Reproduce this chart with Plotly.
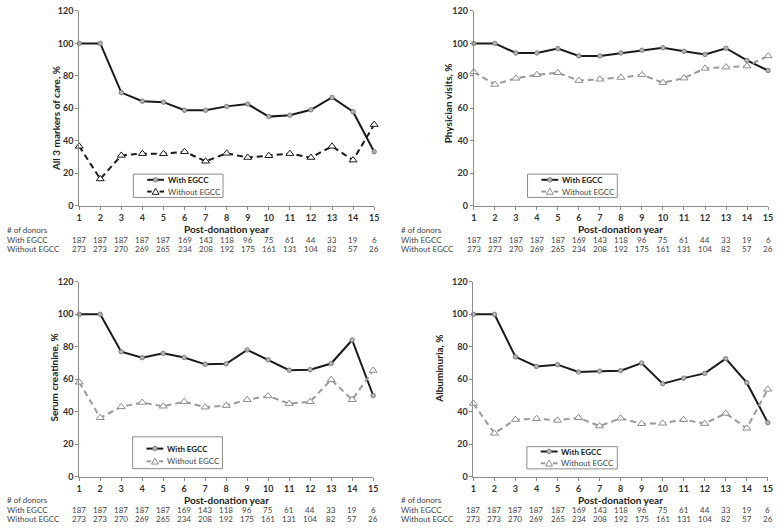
import plotly.graph_objects as go

years = list(range(1, 16))
n_with = [187, 187, 187, 187, 187, 169, 143, 118, 96, 75, 61, 44, 33, 19, 6]
n_without = [273, 273, 270, 269, 265, 234, 208, 192, 175, 161, 131, 104, 82, 57, 26]

all3_with = [100, 100, 69.7, 64.4, 63.8, 58.8, 58.8, 61.2, 62.6, 54.9, 55.8, 59.1, 66.7, 57.9, 33.3]
all3_without = [36.6, 16.5, 31.0, 32.1, 32.0, 33.3, 27.4, 32.3, 29.7, 30.8, 32.1, 29.7, 36.6, 28.1, 50.0]

phys_with = [100, 100, 94.1, 94.1, 96.8, 92.3, 92.3, 94.1, 95.8, 97.3, 95.1, 93.2, 97.0, 89.5, 83.3]
phys_without = [82.4, 74.7, 78.5, 80.7, 81.9, 77.1, 77.9, 79.0, 80.6, 75.8, 78.6, 84.6, 85.4, 86.0, 92.3]

scr_with = [100, 100, 77.0, 73.3, 76.0, 73.4, 69.2, 69.5, 78.1, 72.0, 65.6, 65.9, 69.7, 84.2, 50.0]
scr_without = [58.2, 36.3, 43.0, 45.7, 43.4, 46.2, 42.8, 43.8, 47.4, 49.7, 45.0, 46.2, 59.8, 47.4, 65.4]

alb_with = [100, 100, 73.8, 67.9, 69.0, 64.5, 65.0, 65.3, 70.0, 57.3, 60.7, 63.6, 72.7, 57.9, 33.3]
alb_without = [45.1, 26.7, 35.2, 35.7, 34.7, 36.3, 31.2, 36.0, 32.6, 32.9, 35.1, 32.7, 39.0, 29.8, 53.8]

y_titles = ["All 3 markers of care, %", "Physician visits, %", "Serum creatinine, %", "Albuminuria, %"]
x_title = "Post-donation year"
row_labels = ["# of donors", "With EGCC", "Without EGCC"]
series_names = ["With EGCC", "Without EGCC"]

FONT = "Lato, Calibri, Arial, sans-serif"
W, H = 779, 529

def px_x(p):
    return p / W

def px_y(p):
    return 1 - p / H

# panel geometry in pixels
panels = [
    dict(l=77, r=375, t=5, b=204, with_=all3_with, without=all3_without, dark=True,
         ytx=53, yty=115, box=(131.7, 222.3, 171.7, 195.5), lrows=(177.5, 189.5),
         rowx=2, xt_y=227.5, rows=(229, 239, 248)),
    dict(l=475.7, r=773, t=5, b=204, with_=phys_with, without=phys_without, dark=False,
         ytx=450, yty=99, box=(530, 620.7, 171.7, 195.5), lrows=(177.5, 189.5),
         rowx=400, xt_y=227.5, rows=(229, 239, 248)),
    dict(l=77, r=374, t=281.7, b=480.7, with_=scr_with, without=scr_without, dark=False,
         ytx=52, yty=379, box=(131, 221.7, 440, 472.5), lrows=(452, 465),
         rowx=2, xt_y=504.5, rows=(505, 515, 524)),
    dict(l=475.3, r=772.7, t=281.7, b=480.7, with_=alb_with, without=alb_without, dark=False,
         ytx=441, yty=370, box=(529.3, 620.7, 450, 472.7), lrows=(455, 467),
         rowx=400, xt_y=504.5, rows=(505, 515, 524)),
]

fig = go.Figure()
annotations = []
shapes = []
layout = {}

CIRC_FILL, CIRC_LINE = "#b3b3b3", "#6e6e6e"

for i, p in enumerate(panels):
    k = "" if i == 0 else str(i + 1)
    xa, ya = "x" + k, "y" + k
    dash_color = "#1a1a1a" if p["dark"] else "#9a9a9a"
    tri_line = "#1a1a1a" if p["dark"] else "#8c8c8c"
    fig.add_trace(go.Scatter(
        x=years, y=p["with_"], xaxis=xa, yaxis=ya, showlegend=False,
        name=series_names[0], mode="lines+markers", cliponaxis=False,
        line=dict(color="#1a1a1a", width=2),
        marker=dict(symbol="circle", size=4.5, color=CIRC_FILL,
                    line=dict(color=CIRC_LINE, width=0.8))))
    fig.add_trace(go.Scatter(
        x=years, y=p["without"], xaxis=xa, yaxis=ya, showlegend=False,
        name=series_names[1], mode="lines+markers", cliponaxis=False,
        line=dict(color=dash_color, width=2, dash="6px,4px"),
        marker=dict(symbol="triangle-up", size=7, color="white",
                    line=dict(color=tri_line, width=1))))

    layout["xaxis" + k] = dict(
        domain=[px_x(p["l"]), px_x(p["r"])], anchor=ya, range=[1, 15],
        tickmode="array", tickvals=years, ticktext=[f"<b>{v}</b>" for v in years],
        showgrid=False, zeroline=False, showline=True, linecolor="#8c8c8c", linewidth=1,
        ticks="outside", ticklen=3, tickcolor="#8c8c8c",
        tickfont=dict(family=FONT, size=9, color="#333333"), fixedrange=True)
    layout["yaxis" + k] = dict(
        domain=[px_y(p["b"]), px_y(p["t"])], anchor=xa, range=[0, 120],
        tickmode="array", tickvals=list(range(0, 121, 20)),
        ticktext=[f"<b>{v}</b>" for v in range(0, 121, 20)],
        showgrid=False, zeroline=False, showline=True, linecolor="#8c8c8c", linewidth=1,
        ticks="outside", ticklen=3, tickcolor="#8c8c8c",
        tickfont=dict(family=FONT, size=9, color="#333333"), fixedrange=True)

    # manual legend box
    bl, br, bt, bb = p["box"]
    shapes.append(dict(type="rect", xref="paper", yref="paper",
                       x0=px_x(bl), x1=px_x(br), y0=px_y(bb), y1=px_y(bt),
                       fillcolor="white", line=dict(color="#8c8c8c", width=1), layer="above"))
    sx0, sx1 = bl + 14, bl + 31
    sc = (sx0 + sx1) / 2
    r1, r2 = p["lrows"]
    shapes.append(dict(type="line", xref="paper", yref="paper",
                       x0=px_x(sx0), x1=px_x(sx1), y0=px_y(r1), y1=px_y(r1),
                       line=dict(color="#1a1a1a", width=2), layer="above"))
    shapes.append(dict(type="circle", xref="paper", yref="paper",
                       x0=px_x(sc - 2.3), x1=px_x(sc + 2.3), y0=px_y(r1 + 2.3), y1=px_y(r1 - 2.3),
                       fillcolor=CIRC_FILL, line=dict(color=CIRC_LINE, width=0.8), layer="above"))
    shapes.append(dict(type="line", xref="paper", yref="paper",
                       x0=px_x(sx0), x1=px_x(sc - 4), y0=px_y(r2), y1=px_y(r2),
                       line=dict(color=dash_color, width=2), layer="above"))
    shapes.append(dict(type="line", xref="paper", yref="paper",
                       x0=px_x(sc + 4), x1=px_x(sx1), y0=px_y(r2), y1=px_y(r2),
                       line=dict(color=dash_color, width=2), layer="above"))
    tri = (f"M {px_x(sc - 3.5)} {px_y(r2 + 2.8)} L {px_x(sc + 3.5)} {px_y(r2 + 2.8)} "
           f"L {px_x(sc)} {px_y(r2 - 3.4)} Z")
    shapes.append(dict(type="path", xref="paper", yref="paper", path=tri,
                       fillcolor="white", line=dict(color=tri_line, width=1), layer="above"))
    annotations.append(dict(
        text=f"<b>{series_names[0]}</b>", x=px_x(sx1 + 1.5), y=px_y(r1), xref="paper", yref="paper",
        showarrow=False, xanchor="left", yanchor="middle",
        font=dict(family=FONT, size=8, color="#222222")))
    annotations.append(dict(
        text=series_names[1], x=px_x(sx1 + 1.5), y=px_y(r2), xref="paper", yref="paper",
        showarrow=False, xanchor="left", yanchor="middle",
        font=dict(family=FONT, size=8, color="#444444")))

    # y title
    annotations.append(dict(
        text=f"<b>{y_titles[i]}</b>", x=px_x(p["ytx"]), y=px_y(p["yty"]),
        xref="paper", yref="paper", showarrow=False, textangle=-90,
        font=dict(family=FONT, size=10, color="#222222"),
        xanchor="center", yanchor="middle"))
    # x title
    annotations.append(dict(
        text=f"<b>{x_title}</b>", x=(px_x(p["l"]) + px_x(p["r"])) / 2, y=px_y(p["xt_y"]),
        xref="paper", yref="paper", showarrow=False,
        font=dict(family=FONT, size=10, color="#222222"),
        xanchor="center", yanchor="middle"))
    # table row labels
    for lab, ry in zip(row_labels, p["rows"]):
        annotations.append(dict(
            text=lab, x=px_x(p["rowx"]), y=px_y(ry), xref="paper", yref="paper",
            showarrow=False, xanchor="left", yanchor="middle",
            font=dict(family=FONT, size=8, color="#444444")))
    # table numbers
    for yr, a, b in zip(years, n_with, n_without):
        for val, ry in ((a, p["rows"][1]), (b, p["rows"][2])):
            annotations.append(dict(
                text=str(val), x=yr, y=px_y(ry), xref=xa, yref="paper",
                showarrow=False, xanchor="center", yanchor="middle",
                font=dict(family=FONT, size=8, color="#444444")))

fig.update_layout(
    width=W, height=H, margin=dict(l=0, r=0, t=0, b=0),
    paper_bgcolor="white", plot_bgcolor="white",
    showlegend=False, annotations=annotations, shapes=shapes, **layout)

fig.write_html("out.html")
